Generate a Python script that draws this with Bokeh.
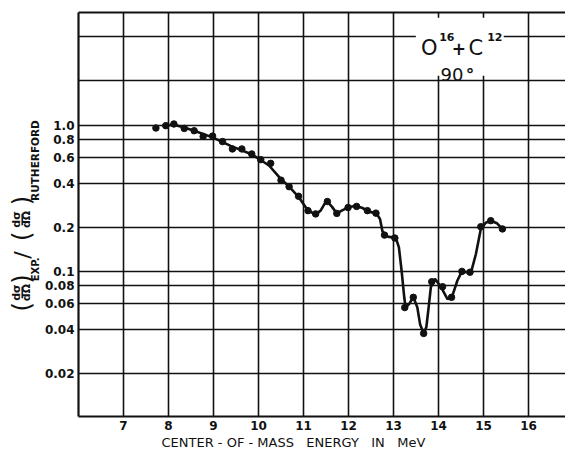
import math
from bokeh.plotting import figure
from bokeh.layouts import row
from bokeh.models import Range1d, FixedTicker, Label, LinearAxis, Title
from bokeh.embed import file_html
from bokeh.resources import INLINE

# ---- data ----
energy_pts = [7.72, 7.94, 8.12, 8.35, 8.57, 8.77, 8.98, 9.20, 9.42, 9.63, 9.85,
              10.05, 10.27, 10.50, 10.68, 10.89, 11.10, 11.27, 11.53, 11.74,
              11.99, 12.18, 12.42, 12.61, 12.80, 13.03, 13.25, 13.44, 13.67,
              13.85, 14.09, 14.29, 14.52, 14.70, 14.94, 15.16, 15.42]
ratio_pts = [0.954, 0.99, 1.016, 0.948, 0.914, 0.836, 0.84, 0.77, 0.686, 0.686,
             0.634, 0.58, 0.547, 0.42, 0.379, 0.326, 0.26, 0.247, 0.30, 0.249,
             0.273, 0.278, 0.26, 0.25, 0.177, 0.169, 0.0566, 0.0665, 0.0377,
             0.085, 0.0786, 0.0665, 0.1, 0.0987, 0.202, 0.222, 0.195]

curve_energy = [7.87, 8.12, 8.35, 8.57, 8.98, 9.38, 9.83, 10.05, 10.24, 10.46,
                10.68, 10.90, 11.09, 11.26, 11.38, 11.51, 11.63, 11.74, 11.85,
                11.98, 12.16, 12.31, 12.46, 12.62, 12.70, 12.75, 12.80, 12.90,
                13.05, 13.12, 13.18, 13.24, 13.27, 13.35, 13.44, 13.53, 13.59,
                13.67, 13.73, 13.78, 13.83, 13.92, 14.05, 14.20, 14.30, 14.42,
                14.52, 14.72, 14.83, 14.94, 15.05, 15.16, 15.30, 15.42]
curve_ratio = [0.99, 1.005, 0.96, 0.914, 0.823, 0.72, 0.634, 0.577, 0.527, 0.44,
               0.379, 0.32, 0.263, 0.244, 0.26, 0.304, 0.277, 0.249, 0.26,
               0.273, 0.281, 0.271, 0.256, 0.249, 0.228, 0.19, 0.176, 0.172,
               0.17, 0.146, 0.101, 0.066, 0.0566, 0.06, 0.067, 0.0566, 0.0436,
               0.0377, 0.0417, 0.0566, 0.078, 0.089, 0.0786, 0.0646, 0.067,
               0.0866, 0.1, 0.0976, 0.131, 0.195, 0.215, 0.222, 0.213, 0.195]

x_ticks = [7, 8, 9, 10, 11, 12, 13, 14, 15, 16]
y_ticks = [0.02, 0.04, 0.06, 0.08, 0.1, 0.2, 0.4, 0.6, 0.8, 1.0, 2.0, 4.0]
y_tick_labels = ["0.02", "0.04", "0.06", "0.08", "0.1", "0.2", "0.4", "0.6",
                 "0.8", "1.0", "", ""]

FONT = "DejaVu Sans"
INK = "#111111"

# ---------------- main plot ----------------
p = figure(width=524, height=453, x_range=Range1d(6, 16.822),
           y_range=Range1d(0.0102, 5.87), y_axis_type="log",
           output_backend="svg", toolbar_location=None,
           min_border_left=37, min_border_right=0, min_border_top=12,
           min_border_bottom=37)
p.outline_line_color = None
p.background_fill_color = "white"

for ax in (p.xaxis[0], p.yaxis[0]):
    ax.axis_line_width = 2.2
    ax.axis_line_color = INK
    ax.major_tick_line_color = None
    ax.minor_tick_line_color = None
    ax.major_tick_out = 0
    ax.major_tick_in = 0
    ax.minor_tick_out = 0
    ax.major_label_text_font = FONT
    ax.major_label_text_font_style = "bold"
    ax.major_label_text_color = INK
    ax.major_label_text_font_size = "12px"

p.xaxis.ticker = FixedTicker(ticks=x_ticks)
p.xaxis.major_label_standoff = 4
p.yaxis.ticker = FixedTicker(ticks=y_ticks)
p.yaxis.major_label_overrides = {t: s for t, s in zip(y_ticks, y_tick_labels)}
p.yaxis.major_label_standoff = 4

top = LinearAxis(ticker=FixedTicker(ticks=[]), major_label_text_font_size="0px",
                 major_tick_line_color=None, minor_tick_line_color=None,
                 major_tick_out=0, major_tick_in=0,
                 axis_line_width=2.2, axis_line_color=INK)
p.add_layout(top, "above")

p.add_layout(Title(text="CENTER - OF - MASS\u00a0\u00a0 ENERGY\u00a0\u00a0 IN\u00a0\u00a0 MeV",
                   align="left", offset=83, standoff=0,
                   text_font=FONT, text_font_size="13px",
                   text_font_style="normal", text_color=INK), "below")

p.xgrid.grid_line_color = INK
p.xgrid.grid_line_width = 1.6
p.ygrid.grid_line_color = INK
p.ygrid.grid_line_width = 1.4

# white box behind the title
p.quad(left=13.496, right=15.45, bottom=2.17, top=5.41,
       fill_color="white", line_color=None)

p.line(curve_energy, curve_ratio, line_width=2.6, color=INK)
p.scatter(energy_pts, ratio_pts, size=6.5, color=INK)

def lab(fig, x, y, t, size, style="normal", angle=0.0, align="center",
        baseline="middle"):
    fig.add_layout(Label(x=x, y=y, text=t, text_font=FONT,
                         text_font_size=f"{size}px", text_font_style=style,
                         text_color=INK, angle=angle, text_align=align,
                         text_baseline=baseline))

# title box text
lab(p, 13.796, 3.357, "O", 21, baseline="alphabetic")
lab(p, 14.184, 4.01, "16", 11, "bold", baseline="alphabetic")
lab(p, 14.451, 3.357, "+", 17, "bold", baseline="alphabetic")
lab(p, 14.829, 3.357, "C", 21, baseline="alphabetic")
lab(p, 15.251, 4.01, "12", 11, "bold", baseline="alphabetic")
lab(p, 14.30, 2.206, "90", 18, baseline="alphabetic")
lab(p, 14.70, 2.206, "°", 17, "bold", baseline="alphabetic")

# ---------------- y-axis title panel ----------------
lf = figure(width=41, height=453, x_range=Range1d(0, 41), y_range=Range1d(453, 0),
            output_backend="svg", toolbar_location=None, min_border=0,
            x_axis_location=None, y_axis_location=None)
lf.outline_line_color = None
lf.grid.visible = False

R = math.pi / 2
lab(lf, 21, 330, "(", 24, angle=R)
lab(lf, 16, 314, "dσ", 11, "bold", angle=R)
lab(lf, 21, 314, "—", 13, "bold", angle=R)
lab(lf, 26, 314, "dΩ", 11, "bold", angle=R)
lab(lf, 21, 299, ")", 24, angle=R)
lab(lf, 35, 288, "EXP.", 10, "bold", angle=R)
lab(lf, 22, 272, "/", 22, angle=R)
lab(lf, 21, 251, "(", 24, angle=R)
lab(lf, 16, 232, "dσ", 11, "bold", angle=R)
lab(lf, 21, 232, "—", 13, "bold", angle=R)
lab(lf, 26, 232, "dΩ", 11, "bold", angle=R)
lab(lf, 21, 211, ")", 24, angle=R)
lab(lf, 34, 166, "RUTHERFORD", 10.5, "bold", angle=R)

open("out.html", "w").write(file_html(row(lf, p), INLINE))
